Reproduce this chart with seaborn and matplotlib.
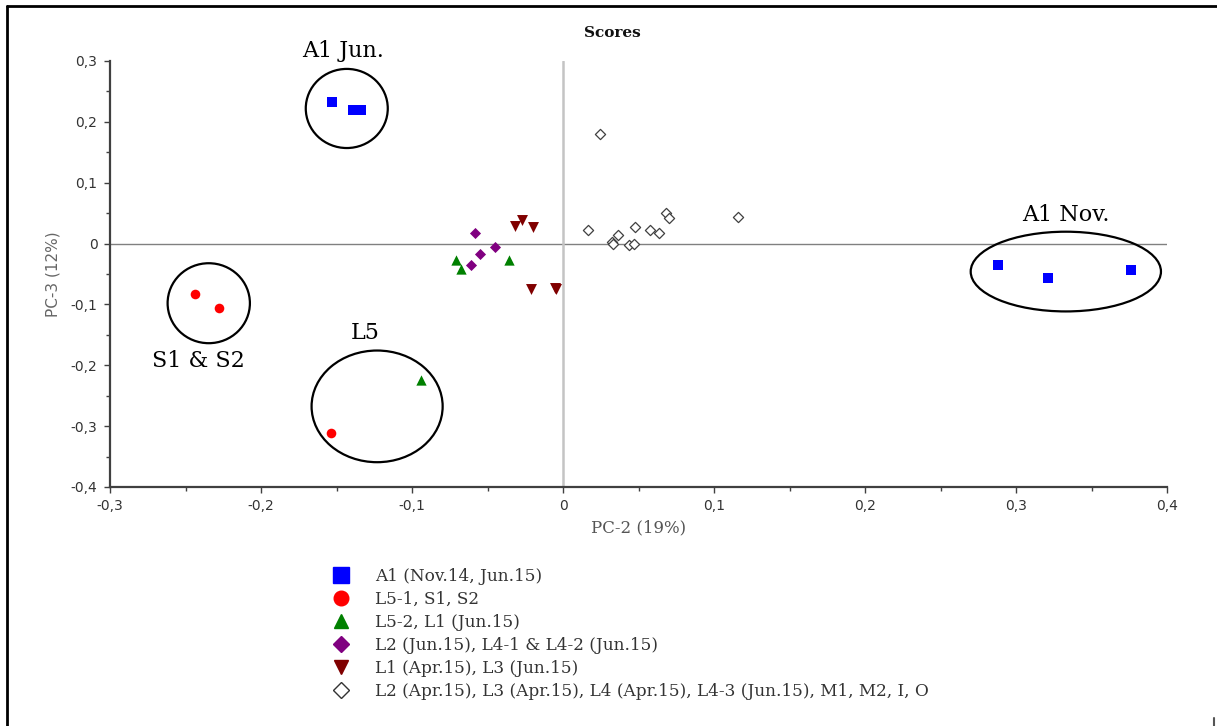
import matplotlib
matplotlib.use("Agg")
import matplotlib.pyplot as plt
import seaborn as sns
from matplotlib.patches import Ellipse
from matplotlib.lines import Line2D
from matplotlib.ticker import MultipleLocator, FuncFormatter

sns.set_style("ticks")
plt.rcParams["font.family"] = ["DejaVu Sans"]
plt.rcParams["axes.unicode_minus"] = False

# PCA scores (PC-2 vs PC-3) per sample group
a1_x = [-0.153, -0.139, -0.134, 0.288, 0.321, 0.376]
a1_y = [0.233, 0.220, 0.220, -0.035, -0.057, -0.043]

s_x = [-0.2435, -0.228, -0.1534]
s_y = [-0.0827, -0.1052, -0.3117]

l52_x = [-0.0709, -0.0678, -0.0355, -0.094]
l52_y = [-0.0263, -0.0411, -0.0268, -0.224]

l4_x = [-0.0581, -0.0552, -0.0611, -0.0452]
l4_y = [0.0175, -0.0170, -0.0345, -0.0055]

l13_x = [-0.0318, -0.0269, -0.0201, -0.0210, -0.0053, -0.0046]
l13_y = [0.0296, 0.0389, 0.0268, -0.0751, -0.0734, -0.0751]

apr_x = [0.0245, 0.0168, 0.0322, 0.0333, 0.0362, 0.0439, 0.0472,
         0.0479, 0.0576, 0.0636, 0.0680, 0.0704, 0.1161]
apr_y = [0.1807, 0.0225, 0.0021, -0.0011, 0.0148, -0.0027, -0.0005,
         0.0268, 0.0225, 0.0175, 0.0498, 0.0422, 0.0444]

labels = [
    "A1 (Nov.14, Jun.15)",
    "L5-1, S1, S2",
    "L5-2, L1 (Jun.15)",
    "L2 (Jun.15), L4-1 & L4-2 (Jun.15)",
    "L1 (Apr.15), L3 (Jun.15)",
    "L2 (Apr.15), L3 (Apr.15), L4 (Apr.15), L4-3 (Jun.15), M1, M2, I, O",
]

# cluster outlines: (label, centre x, centre y, width, height)
clusters = [
    ("A1 Jun.", -0.1432, 0.222, 0.0543, 0.130),
    ("S1 & S2", -0.2346, -0.098, 0.0545, 0.1314),
    ("L5", -0.1231, -0.2675, 0.0868, 0.1835),
    ("A1 Nov.", 0.333, -0.046, 0.126, 0.131),
]
cluster_label_pos = [(-0.1457, 0.317), (-0.2417, -0.1922), (-0.1311, -0.1462), (0.333, 0.0476)]

W, H = 1217, 726
fig = plt.figure(figsize=(W / 100, H / 100), dpi=100)
ax = fig.add_axes([110 / W, 1 - 487 / H, (1167 - 110) / W, (487 - 61) / H])

ax.axhline(0, color="#808080", lw=1.0, zorder=1)
ax.axvline(0, color="#c4c4c4", lw=1.8, zorder=1)

styles = [
    (a1_x, a1_y, "s", "#0000ff", "#0000ff", 55),
    (s_x, s_y, "o", "#ff0000", "#ff0000", 48),
    (l52_x, l52_y, "^", "#008000", "#008000", 55),
    (l4_x, l4_y, "D", "#800080", "#800080", 32),
    (l13_x, l13_y, "v", "#800000", "#800000", 62),
    (apr_x, apr_y, "D", "white", "#404040", 27),
]
for xs, ys, mk, fc, ec, sz in styles:
    sns.scatterplot(x=xs, y=ys, marker=mk, color=fc, edgecolor=ec,
                    linewidth=0.9 if fc == "white" else 0, s=sz, ax=ax, zorder=3)

for (name, cx, cy, w, h), (tx, ty) in zip(clusters, cluster_label_pos):
    ax.add_patch(Ellipse((cx, cy), w, h, fill=False, edgecolor="black", lw=1.6, zorder=4))
    ax.text(tx, ty, name, ha="center", va="center", fontsize=16,
            family="DejaVu Serif", color="black", clip_on=False)

ax.set_xlim(-0.3, 0.4)
ax.set_ylim(-0.4, 0.3)
ax.xaxis.set_major_locator(MultipleLocator(0.1))
ax.yaxis.set_major_locator(MultipleLocator(0.1))
ax.xaxis.set_minor_locator(MultipleLocator(0.05))
ax.yaxis.set_minor_locator(MultipleLocator(0.05))


def comma_fmt(v, _pos):
    v = round(v, 2)
    if abs(v) < 1e-9:
        return "0"
    return f"{v:.1f}".replace(".", ",")


ax.xaxis.set_major_formatter(FuncFormatter(comma_fmt))
ax.yaxis.set_major_formatter(FuncFormatter(comma_fmt))
ax.tick_params(which="major", direction="out", length=4, width=1, color="#404040",
               labelsize=10, labelcolor="#333333", pad=5)
ax.tick_params(which="minor", direction="out", length=3, width=1, color="#404040")
for side in ("top", "right"):
    ax.spines[side].set_visible(False)
for side in ("left", "bottom"):
    ax.spines[side].set_color("#404040")
    ax.spines[side].set_linewidth(1.6)

ax.set_xlabel("PC-2 (19%)", family="DejaVu Serif", fontsize=12, color="#555555", labelpad=4)
ax.set_ylabel("PC-3 (12%)", fontsize=11, color="#666666", labelpad=7)

fig.text(612 / W, 1 - 33 / H, "Scores", ha="center", va="center",
         family="DejaVu Serif", fontweight="bold", fontsize=11, color="#111111")

handles = [
    Line2D([], [], ls="", marker="s", markersize=11, color="#0000ff"),
    Line2D([], [], ls="", marker="o", markersize=10.5, color="#ff0000"),
    Line2D([], [], ls="", marker="^", markersize=10, color="#008000"),
    Line2D([], [], ls="", marker="D", markersize=8.5, color="#800080"),
    Line2D([], [], ls="", marker="v", markersize=10, color="#800000"),
    Line2D([], [], ls="", marker="D", markersize=8, markerfacecolor="white",
           markeredgecolor="#333333", markeredgewidth=1.0),
]
leg = fig.legend(handles, labels, loc="upper left", bbox_to_anchor=(324 / W, 1 - 561 / H),
                 frameon=False, prop={"family": "DejaVu Serif", "size": 12.2},
                 handlelength=1.2, handletextpad=1.42, labelspacing=0.36,
                 borderpad=0.4, borderaxespad=0)
for t in leg.get_texts():
    t.set_color("#333333")

# page border
fig.add_artist(Line2D([7 / W, 1], [1 - 6 / H, 1 - 6 / H], color="black", lw=2))
fig.add_artist(Line2D([7 / W, 7 / W], [0, 1 - 6 / H], color="black", lw=2))
fig.add_artist(Line2D([1214 / W, 1214 / W], [0, 8 / H], color="#555555", lw=1.5))

fig.savefig("out.png", dpi=100)
